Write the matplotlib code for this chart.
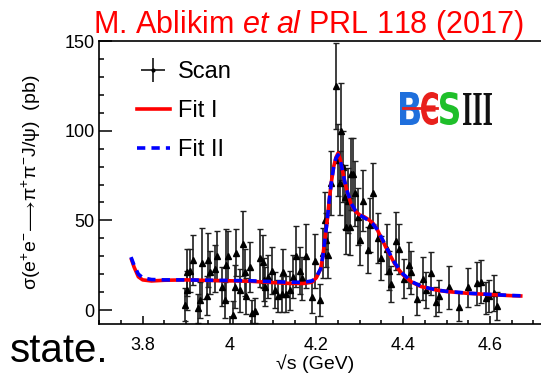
import numpy as np
import matplotlib
matplotlib.use("Agg")
import matplotlib.pyplot as plt
from matplotlib.ticker import MultipleLocator, FixedLocator
from matplotlib.textpath import TextPath
from matplotlib.patches import PathPatch
from matplotlib.font_manager import FontProperties
from matplotlib.transforms import Affine2D
from matplotlib.lines import Line2D

plt.rcParams['font.family'] = ['Liberation Sans', 'DejaVu Sans']
plt.rcParams['mathtext.fontset'] = 'custom'
plt.rcParams['mathtext.rm'] = 'Liberation Sans'
plt.rcParams['mathtext.it'] = 'Liberation Sans:italic'
plt.rcParams['mathtext.bf'] = 'Liberation Sans:bold'

# ---------------- data ----------------
scan_energy = [3.897, 3.901, 3.903, 3.909, 3.916, 3.927, 3.932, 3.936, 3.947, 3.950,
               3.955, 3.966, 3.970, 3.982, 3.989, 3.993, 3.997, 4.008, 4.012, 4.016,
               4.024, 4.031, 4.035, 4.039, 4.047, 4.052, 4.058, 4.070, 4.077, 4.079,
               4.081, 4.089, 4.097, 4.104, 4.112, 4.120, 4.123, 4.131, 4.139, 4.146,
               4.154, 4.162, 4.166, 4.177, 4.189, 4.197, 4.208, 4.215, 4.219, 4.223,
               4.227, 4.234, 4.246, 4.250, 4.254, 4.257, 4.261, 4.265, 4.269, 4.273,
               4.277, 4.280, 4.284, 4.288, 4.296, 4.300, 4.307, 4.319, 4.323, 4.330,
               4.342, 4.349, 4.362, 4.368, 4.372, 4.384, 4.390, 4.403, 4.414, 4.418,
               4.432, 4.445, 4.453, 4.464, 4.476, 4.483, 4.506, 4.529, 4.549, 4.569,
               4.579, 4.591, 4.598, 4.610, 4.617]
scan_sigma = [3, 11, 21, 22, 28, 1, 5.6, 26, 8, 28,
              21, 23, 30, 13, 5.6, 25, 30, -3, 13, 32,
              11, 37, 21, 8, 24, -1.5, -0.5, 29, 27, 17,
              13, 18.6, 22, 11, 8, 9, 21, 9, 11, 18.6,
              30, 22, 17.7, 30, 7.5, 27.5, 5.6, 31.7, 50, 39,
              30.7, 70.8, 124.7, 83.8, 70.8, 99.6, 80, 63, 46.5, 61,
              46.5, 76, 76, 65, 52, 39, 61, 33.5, 47.5, 65,
              40, 29, 34, 22, 14.5, 38.5, 34, 17.5, 25, 21,
              6, 17.5, 11, 20.5, 4.6, 8, 12.7, 1.8, 12.7, 15,
              15.8, 6.5, 8, 9.3, 2.2]
scan_error = [9, 11, 13, 12, 14, 8, 10, 20, 11, 15,
              12, 13, 14, 11, 10, 20, 14, 8, 12, 13,
              12, 18, 13, 10, 14, 7, 7, 16, 15, 12,
              11, 12, 13, 10, 9, 10, 13, 10, 11, 12,
              17, 13, 12, 18, 9, 15, 9, 14, 16, 15,
              13, 18, 24, 20, 18, 27, 20, 18, 15, 18,
              16, 20, 20, 18, 16, 14, 17, 13, 15, 17,
              14, 12, 14, 11, 10, 16, 14, 11, 13, 12,
              9, 12, 10, 12, 8, 9, 12, 8, 11, 12,
              12, 9, 9, 10, 8]

fit1_energy = [3.773, 3.780, 3.790, 3.800, 3.820, 3.850, 3.900, 3.950, 4.000, 4.050,
               4.100, 4.140, 4.170, 4.190, 4.200, 4.210, 4.215, 4.220, 4.225, 4.230,
               4.235, 4.240, 4.245, 4.250, 4.255, 4.260, 4.265, 4.270, 4.280, 4.290,
               4.300, 4.310, 4.320, 4.330, 4.340, 4.350, 4.360, 4.370, 4.380, 4.390,
               4.400, 4.420, 4.440, 4.460, 4.480, 4.500, 4.550, 4.600, 4.650, 4.675]
fit1_sigma = [29, 24, 18.5, 16.8, 16.2, 16.6, 16.8, 16.5, 16.3, 16.0,
              15.3, 14.8, 14.8, 15.5, 18, 23, 30, 40, 50, 62,
              72, 80, 85, 87.5, 84, 78, 72, 67, 59, 55,
              53, 52, 50.5, 48.5, 45, 40, 35, 30.5, 26, 22.5,
              19.5, 15.5, 13.2, 12, 11, 10.3, 9.3, 8.6, 8, 7.8]
fit2_sigma = [29.5, 25, 20, 18, 17, 16.8, 16.8, 16.6, 16.5, 16.3,
              15.8, 15.5, 15.5, 16.2, 18.5, 23, 30, 40, 50, 62,
              72, 80, 84.5, 86.5, 83.5, 78, 72, 67, 59.5, 55.5,
              53, 51.5, 50, 48, 45, 40.5, 35.5, 31, 26.5, 23,
              20, 15.8, 13.4, 12.1, 11.1, 10.4, 9.4, 8.7, 8.1, 7.9]

x_ticks = [3.8, 4.0, 4.2, 4.4, 4.6]
x_tick_labels = ["3.8", "4", "4.2", "4.4", "4.6"]
y_ticks = [0, 50, 100, 150]
y_tick_labels = ["0", "50", "100", "150"]

# ---------------- figure ----------------
W, H = 541, 377
fig = plt.figure(figsize=(W / 100, H / 100), dpi=100)
ax = fig.add_axes([99 / W, 1 - 324 / H, 442 / W, (324 - 40.7) / H])

ax.errorbar(scan_energy, scan_sigma, yerr=scan_error, fmt='^', color='black',
            ms=4.5, ecolor='0.12', elinewidth=1.2, capsize=2, capthick=1.0, zorder=2)
ax.plot(fit1_energy, fit1_sigma, color='#ff0000', lw=2.6, zorder=3, solid_capstyle='butt')
ax.plot(fit1_energy, fit2_sigma, color='#0000ff', lw=2.6, zorder=4,
        dashes=(2.3, 1.7))

ax.set_xlim(3.6993, 4.7175)
ax.set_ylim(-7.8, 150.2)

ax.xaxis.set_major_locator(FixedLocator(x_ticks))
ax.set_xticklabels(x_tick_labels)
ax.xaxis.set_minor_locator(MultipleLocator(0.05))
ax.yaxis.set_major_locator(FixedLocator(y_ticks))
ax.set_yticklabels(y_tick_labels)
ax.yaxis.set_minor_locator(MultipleLocator(10))

ax.tick_params(axis='both', which='both', direction='in', width=1.1, labelsize=13)
ax.tick_params(axis='x', which='major', length=6, pad=9)
ax.tick_params(axis='x', which='minor', length=3)
ax.tick_params(axis='y', which='major', length=9.5, pad=3)
ax.tick_params(axis='y', which='minor', length=3.8)
for s in ['left', 'bottom', 'top']:
    ax.spines[s].set_linewidth(1.2)
ax.spines['right'].set_visible(False)

ax.set_xlabel("\u221As (GeV)", fontsize=14)
ax.xaxis.set_label_coords((315 - 99) / 442, -0.108)
ax.set_ylabel(r"$\mathregular{\sigma(e^{+}e^{-}\!\longrightarrow\!\pi^{+}\pi^{-}J/\psi)}$  (pb)",
              fontsize=14)
ax.yaxis.set_label_coords(-0.127, 0.5)

# legend
h_scan = ax.errorbar([np.nan], [np.nan], xerr=[1], yerr=[1], fmt='.', color='black',
                     ms=4, ecolor='0.15', elinewidth=1.3)
h_fit1 = Line2D([], [], color='#ff0000', lw=2.6)
h_fit2 = Line2D([], [], color='#0000ff', lw=2.6, dashes=(2.3, 1.7))
leg = ax.legend([h_scan, h_fit1, h_fit2], ["Scan", "Fit I", "Fit II"],
                loc='upper left', bbox_to_anchor=(0.085, 0.928), frameon=False,
                fontsize=17, handlelength=1.4, handletextpad=0.35,
                labelspacing=0.72, borderpad=0, borderaxespad=0)

# title-like reference text
fig.text(93 / W, 1 - 33 / H, r"M. Ablikim $\mathit{et\ al}$ PRL 118 (2017)",
         color='#ff0000', fontsize=22, va='baseline', ha='left')
fig.text(10 / W, 1 - 362 / H, "state.", color='black', fontsize=29,
         va='baseline', ha='left')

# BESIII logo
def logo_glyph(ch, color, x0, y0, w, h, prop):
    tp = TextPath((0, 0), ch, size=100, prop=prop)
    bb = tp.get_extents()
    tr = (Affine2D().translate(-bb.x0, -bb.y0)
          .scale(w / bb.width / W, h / bb.height / H)
          .translate(x0 / W, 1 - (y0 + h) / H))
    patch = PathPatch(tr.transform_path(tp), facecolor=color, edgecolor='none',
                      transform=fig.transFigure)
    fig.add_artist(patch)

sans_b = FontProperties(family='DejaVu Sans', weight='bold')
serif_b = FontProperties(family='Liberation Serif', weight='bold')
logo_glyph("B", '#1f6fdc', 400, 92, 20, 33, sans_b)
logo_glyph("\u0404", '#e8201c', 421, 92, 17, 33, sans_b)
logo_glyph("S", '#1fbf2a', 440, 92, 19, 33, sans_b)
logo_glyph("III", '#111111', 463, 93, 29, 32, serif_b)
fig.add_artist(Line2D([403 / W, 437 / W], [1 - 108 / H, 1 - 108 / H],
                      color='#e8201c', lw=2.0, transform=fig.transFigure))

fig.savefig("out.png", dpi=100)
